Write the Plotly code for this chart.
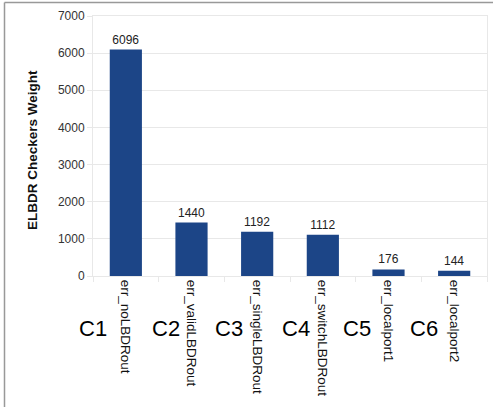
import plotly.graph_objects as go

# Checker weights per ELBDR checker
checkers = ["err_noLBDRout", "err_validLBDRout", "err_singleLBDRout",
            "err_switchLBDRout", "err_localport1", "err_localport2"]
weights = [6096, 1440, 1192, 1112, 176, 144]
checker_ids = ["C1", "C2", "C3", "C4", "C5", "C6"]

W, H = 493, 407
L, R, T, B = 93, 6, 16, 131
FONT = "Liberation Sans, Arial, sans-serif"
BAR = "#1c4587"
GRID = "#e8e8e8"
# horizontal offsets (px) of the Cn identifiers from their category centres
id_shifts = [-17, -9.5, -12.5, -11, -15.5, -14]

fig = go.Figure(go.Bar(
    x=checkers, y=weights,
    marker=dict(color=BAR, line=dict(width=0)),
    width=0.49,
    text=weights, texttemplate="%{text}", textposition="outside",
    textfont=dict(family=FONT, size=12, color="#222"),
    cliponaxis=False,
))

# Cn identifiers placed to the left of each category label
for cid, name, dx in zip(checker_ids, checkers, id_shifts):
    fig.add_annotation(
        x=name, xref="x", y=(276 - 328) / (H - T - B), yref="paper",
        text=cid, showarrow=False, xanchor="right", yanchor="middle",
        xshift=dx, font=dict(family=FONT, size=22, color="#000"),
    )

# Rotated y-axis title
fig.add_annotation(
    x=(32 - L) / (W - L - R), xref="paper", y=(276 - 150) / (H - T - B),
    yref="paper",
    text="<b>ELBDR Checkers Weight</b>", textangle=-90, showarrow=False,
    xanchor="center", yanchor="middle",
    font=dict(family=FONT, size=13.5, color="#111"),
)

# Outer frame (top and left edges)
fig.add_shape(type="line", xref="paper", yref="paper",
              x0=(4.5 - L) / (W - L - R), x1=(W - L) / (W - L - R) + 0.01,
              y0=(H - B - 2.5) / (H - T - B), y1=(H - B - 2.5) / (H - T - B),
              line=dict(color="#999", width=1.5))
fig.add_shape(type="line", xref="paper", yref="paper",
              x0=(4.5 - L) / (W - L - R), x1=(4.5 - L) / (W - L - R),
              y0=(H - B - 2.5) / (H - T - B), y1=-B / (H - T - B),
              line=dict(color="#999", width=1.5))

fig.update_layout(
    width=W, height=H,
    margin=dict(l=L, r=R, t=T, b=B),
    paper_bgcolor="white", plot_bgcolor="white",
    showlegend=False,
    bargap=0.51,
    font=dict(family=FONT, size=12, color="#333"),
)
fig.update_xaxes(
    type="category", range=[-0.5, len(checkers) - 0.5],
    tickangle=90, tickson="boundaries",
    ticks="outside", ticklen=5, tickcolor=GRID,
    showline=True, linecolor=GRID, linewidth=1, mirror=True,
    showgrid=False, automargin=False,
    tickfont=dict(family=FONT, size=13.5, color="#111"),
)
fig.update_yaxes(
    range=[0, 7000], dtick=1000,
    ticks="outside", ticklen=5, tickcolor=GRID,
    showgrid=True, gridcolor=GRID, gridwidth=1,
    showline=True, linecolor=GRID, mirror=True,
    zeroline=False, automargin=False,
    tickfont=dict(family=FONT, size=12, color="#333"),
)

fig.write_html("out.html")
